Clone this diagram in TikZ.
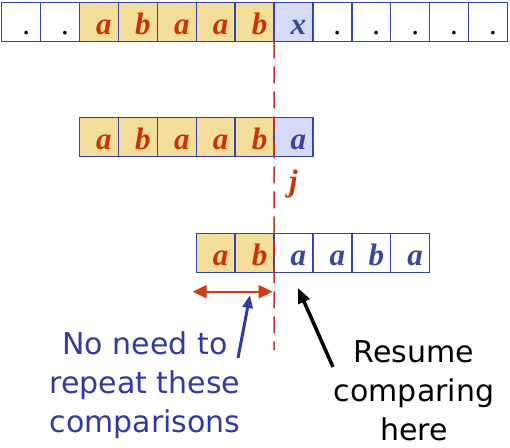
\documentclass[tikz,border=0pt]{standalone}
\usepackage{fontspec}
\newfontfamily\notefamily{DejaVu Sans}
\newfontfamily\letterfamily{Liberation Serif}
\usetikzlibrary{arrows.meta,positioning}

\definecolor{cellline}{HTML}{3544A8}
\definecolor{matchfill}{HTML}{F2DD9B}
\definecolor{missfill}{HTML}{D6DAF8}
\definecolor{symred}{HTML}{CC3300}
\definecolor{symblue}{HTML}{3A46A0}
\definecolor{noteblue}{HTML}{2F3B9F}
\definecolor{cutred}{HTML}{C8312A}
\definecolor{skipred}{HTML}{D03A14}

\newcommand{\letterfont}{\letterfamily\bfseries\itshape\fontsize{31bp}{31bp}\selectfont}
\newcommand{\notefont}{\notefamily\fontsize{30bp}{39bp}\selectfont}
\newcommand{\gapdot}{{\mdseries\upshape.}}

\begin{document}
\begin{tikzpicture}[
  x=1bp, y=-1bp,
  cell/.style={draw=cellline,line width=1.4bp,minimum width=38.9bp,minimum height=38.8bp,inner sep=0pt,outer sep=0pt},
  sym/.style={anchor=base,inner sep=0pt,font=\letterfont},
  note/.style={align=center,inner sep=0pt,anchor=base,font=\notefont}
]
\useasboundingbox (0,0) rectangle (510,448);

% text
\foreach \s/\f/\t [count=\i from 0] in {\gapdot/white/black,\gapdot/white/black,a/matchfill/symred,b/matchfill/symred,a/matchfill/symred,a/matchfill/symred,b/matchfill/symred,x/missfill/symblue,\gapdot/white/black,\gapdot/white/black,\gapdot/white/black,\gapdot/white/black,\gapdot/white/black}{
  \node[cell,fill=\f] (t\i) at ({1.7+38.9*(\i+0.5)},22) {};
  \node[sym,text=\t] (ts\i) at ([xshift=5bp,yshift=-12.5bp]t\i.center) {\s};
}

% pattern, first alignment
\foreach \s/\f/\t [count=\i from 0] in {a/matchfill/symred,b/matchfill/symred,a/matchfill/symred,a/matchfill/symred,b/matchfill/symred,a/missfill/symblue}{
  \node[cell,fill=\f] (p\i) at ({1.7+38.9*(\i+2.5)},137) {};
  \node[sym,text=\t] (ps\i) at ([xshift=5bp,yshift=-12.5bp]p\i.center) {\s};
}

% pattern, shifted
\foreach \s/\f/\t [count=\i from 0] in {a/matchfill/symred,b/matchfill/symred,a/white/symblue,a/white/symblue,b/white/symblue,a/white/symblue}{
  \node[cell,fill=\f] (q\i) at ({1.7+38.9*(\i+5.5)},252.8) {};
  \node[sym,text=\t] (qs\i) at ([xshift=5bp,yshift=-12.5bp]q\i.center) {\s};
}

\coordinate (cutbot) at (274,350);
\draw[cutred,line width=1.5bp,dash pattern=on 17bp off 8bp] (t6.south east) -- (cutbot);
\node[sym,text=symred] (j) at ([yshift=-35.5bp]p5.south) {j};

\coordinate (skipl) at (192.7,291.7);
\coordinate (skipr) at (272.7,291.7);
\draw[skipred,line width=2bp,{Triangle[length=14bp,width=13bp]}-{Triangle[length=14bp,width=13bp]}] (skipl) -- (skipr);

\node[note,text=noteblue] (skipnote) at (145,432) {No need to\\repeat these\\comparisons};
\node[note] (resume) at (414,440) {Resume\\comparing\\here};

\coordinate (skiptail) at (238,358);
\coordinate (skiptip) at (250,295);
\coordinate (resumetail) at (333,367);
\coordinate (resumetip) at (298,288);
\draw[noteblue,line width=3bp,-{Triangle[length=13bp,width=10bp]}] (skiptail) -- (skiptip);
\draw[black,line width=3.5bp,-{Triangle[length=15bp,width=12bp]}] (resumetail) -- (resumetip);
\end{tikzpicture}
\end{document}
